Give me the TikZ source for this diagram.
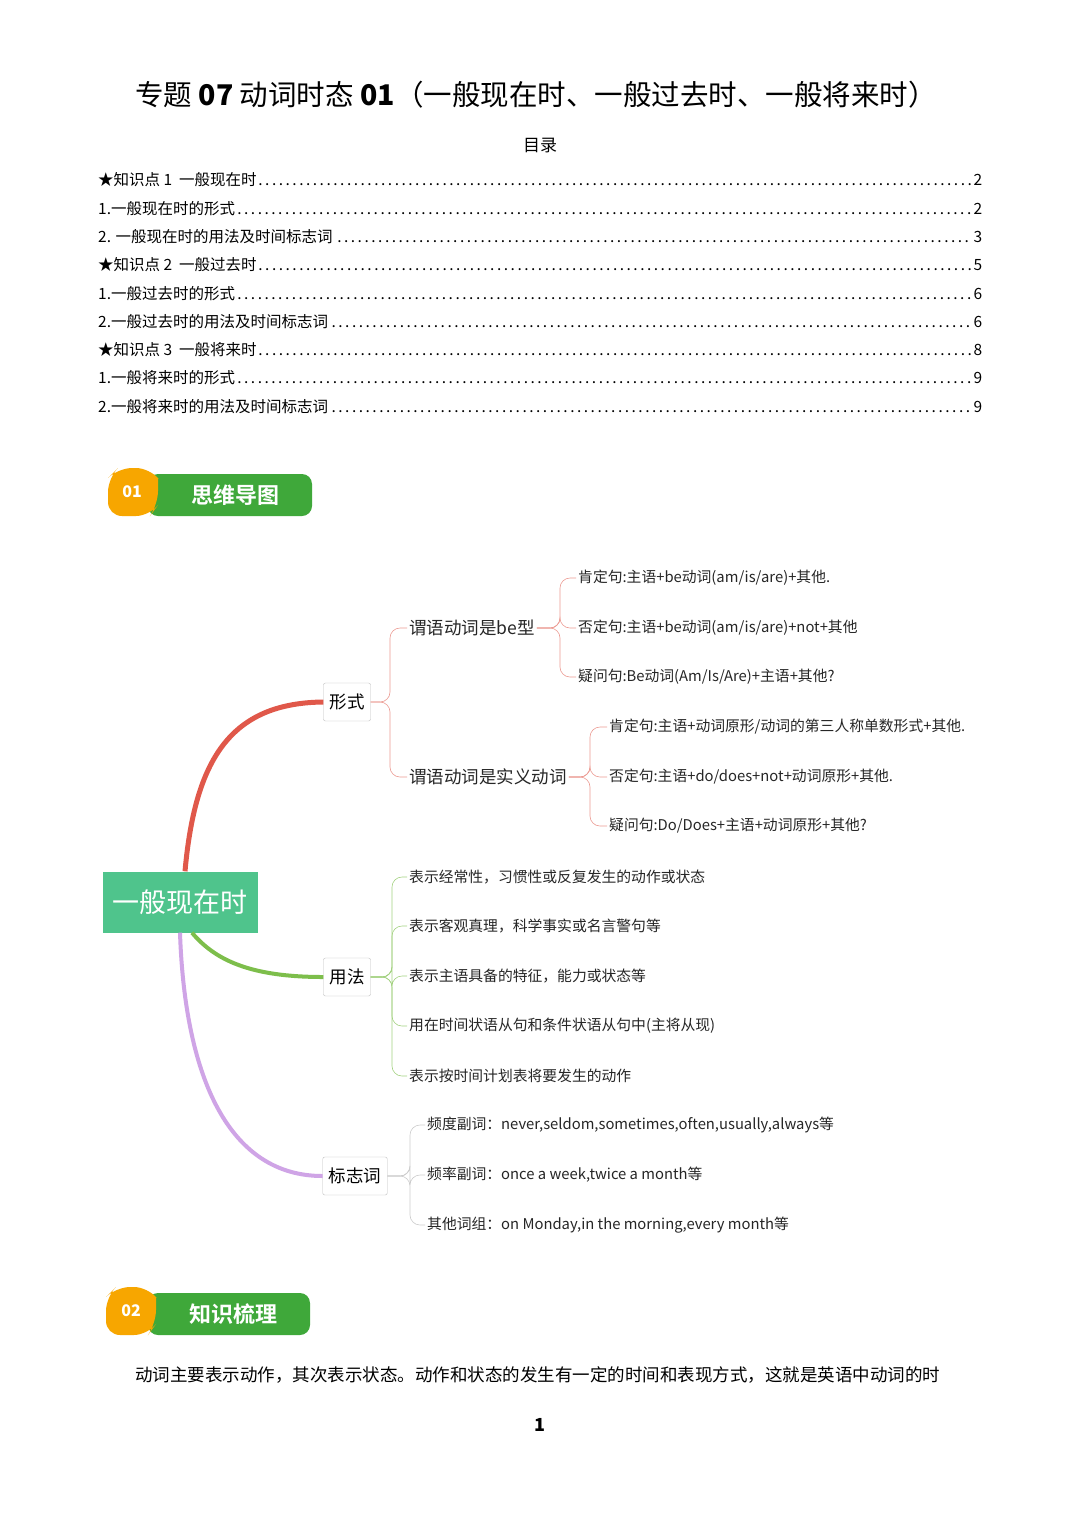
\documentclass[tikz,border=0pt]{standalone}
\usepackage{fontspec}
\setmainfont{Noto Sans CJK SC}
\newfontfamily\cjkb[BoldFont={Noto Sans CJK SC Bold}]{Noto Sans CJK SC}
\definecolor{cred}{HTML}{E0584A}
\definecolor{cgreen}{HTML}{7DBE4B}
\definecolor{cpurple}{HTML}{CFA4E6}
\definecolor{cmain}{HTML}{4FC48C}
\definecolor{corange}{HTML}{F7A600}
\definecolor{cbadge}{HTML}{3FA83A}
\tikzset{
  toc/.style={anchor=west,inner sep=0,font=\fontsize{15.5}{15}\selectfont},
  leaf/.style={anchor=west,inner sep=2pt,font=\fontsize{14.8}{14}\selectfont,text=black!85},
  mid/.style={anchor=west,inner sep=2pt,font=\fontsize{17.5}{17}\selectfont,text=black!85},
  box/.style={draw=black!25,rounded corners=2pt,fill=white,font=\fontsize{17.5}{17}\selectfont,inner sep=6pt,minimum height=38pt},
  br/.style={line width=0.6pt,rounded corners=10pt},
}
\begin{document}
\begin{tikzpicture}[x=1pt,y=-1pt]
\useasboundingbox (0,0) rectangle (1080,1527);
\fill[white] (0,0) rectangle (1080,1527);
\node (title) at (536,95) {\fontsize{28.5}{28}\selectfont 专题 \textbf{07}\ 动词时态 \textbf{01}（一般现在时、一般过去时、一般将来时）};
\node (ml) at (540,145) {\fontsize{17}{17}\selectfont 目录};
\foreach \t/\p [count=\i from 0] in {★知识点 1\ \ 一般现在时/2,1.一般现在时的形式/2,2. 一般现在时的用法及时间标志词/3,★知识点 2\ \ 一般过去时/5,1.一般过去时的形式/6,2.一般过去时的用法及时间标志词/6,★知识点 3\ \ 一般将来时/8,1.一般将来时的形式/9,2.一般将来时的用法及时间标志词/9}
  \node[toc] (toc\i) at (98,180+28.3*\i) {\makebox[884pt][l]{\t\dotfill\p}};
% badge 1
\fill[cbadge] (148,474) [rounded corners=10pt] rectangle (312,516);
\fill[corange] (108,516) [rounded corners=14pt] -- (108,478) -- (118,468) -- (150,468) [sharp corners] -- (158,478) [rounded corners=14pt] -- (158,505) -- (150,516) -- cycle;
\node[text=white,font=\bfseries\fontsize{16}{16}\selectfont] (b1) at (132,492) {01};
\node[text=white,font=\cjkb\bfseries\fontsize{22}{22}\selectfont] (b1t) at (235,495) {思维导图};
% badge 2
\fill[cbadge] (148,1293) [rounded corners=10pt] rectangle (310,1335);
\fill[corange] (106,1335) [rounded corners=14pt] -- (106,1297) -- (116,1287) -- (148,1287) [sharp corners] -- (156,1297) [rounded corners=14pt] -- (156,1324) -- (148,1335) -- cycle;
\node[text=white,font=\bfseries\fontsize{16}{16}\selectfont] (b2) at (131,1311) {02};
\node[text=white,font=\cjkb\bfseries\fontsize{22}{22}\selectfont] (b2t) at (233,1314) {知识梳理};
% mind map
\node[fill=cmain,text=white,minimum width=155pt,minimum height=61pt,inner sep=0,font=\fontsize{27}{27}\selectfont] (root) at (180,902) {一般现在时};
\node[box] (xs) at (347,702) {形式};
\node[box] (yf) at (347,977) {用法};
\node[box] (bz) at (355,1176) {标志词};
\draw[cred,line width=5pt] (root.north)++(5,0) .. controls (195,760) and (230,703) .. (xs.west);
\draw[cgreen,line width=4pt] (root.south)++(12,0) .. controls (215,960) and (250,977) .. (yf.west);
\draw[cpurple,line width=4pt] (root.south) .. controls (185,1080) and (230,1176) .. (bz.west);
\node[mid] (be) at (407,628) {谓语动词是be型};
\node[mid] (sy) at (407,777) {谓语动词是实义动词};
\draw[br,cred!60] (xs.east) -- (390,702) -- (390,628) -- (be.west);
\draw[br,cred!60] (xs.east) -- (390,702) -- (390,777) -- (sy.west);
\node[leaf] (l1) at (576,578) {肯定句:主语+be动词(am/is/are)+其他.};
\node[leaf] (l2) at (576,628) {否定句:主语+be动词(am/is/are)+not+其他};
\node[leaf] (l3) at (576,677) {疑问句:Be动词(Am/Is/Are)+主语+其他?};
\foreach \n in {l1,l2,l3} \draw[br,cred!60] (be.east) -- (560,628) -- (560,628|-\n.west) -- (\n.west);
\node[leaf] (m1) at (607,727) {肯定句:主语+动词原形/动词的第三人称单数形式+其他.};
\node[leaf] (m2) at (607,777) {否定句:主语+do/does+not+动词原形+其他.};
\node[leaf] (m3) at (607,826) {疑问句:Do/Does+主语+动词原形+其他?};
\foreach \n in {m1,m2,m3} \draw[br,cred!60] (sy.east) -- (590,777) -- (590,777|-\n.west) -- (\n.west);
\node[leaf] (u1) at (407,877) {表示经常性，习惯性或反复发生的动作或状态};
\node[leaf] (u2) at (407,926) {表示客观真理，科学事实或名言警句等};
\node[leaf] (u3) at (407,976) {表示主语具备的特征，能力或状态等};
\node[leaf] (u4) at (407,1026) {用在时间状语从句和条件状语从句中(主将从现)};
\node[leaf] (u5) at (407,1076) {表示按时间计划表将要发生的动作};
\foreach \n in {u1,u2,u3,u4,u5} \draw[br,cgreen!70] (yf.east) -- (392,977) -- (392,977|-\n.west) -- (\n.west);
\node[leaf] (k1) at (425,1125) {频度副词：never,seldom,sometimes,often,usually,always等};
\node[leaf] (k2) at (425,1175) {频率副词：once a week,twice a month等};
\node[leaf] (k3) at (425,1225) {其他词组：on Monday,in the morning,every month等};
\foreach \n in {k1,k2,k3} \draw[br,black!20] (bz.east) -- (410,1176) -- (410,1176|-\n.west) -- (\n.west);
\node[anchor=west,inner sep=0,font=\fontsize{17.5}{17}\selectfont] (para) at (135,1375) {\makebox[847pt][s]{动词主要表示动作，其次表示状态。动作和状态的发生有一定的时间和表现方式，这就是英语中动词的时}};
\node[font=\bfseries\fontsize{18}{18}\selectfont] (pg) at (540,1425) {1};
\end{tikzpicture}
\end{document}
